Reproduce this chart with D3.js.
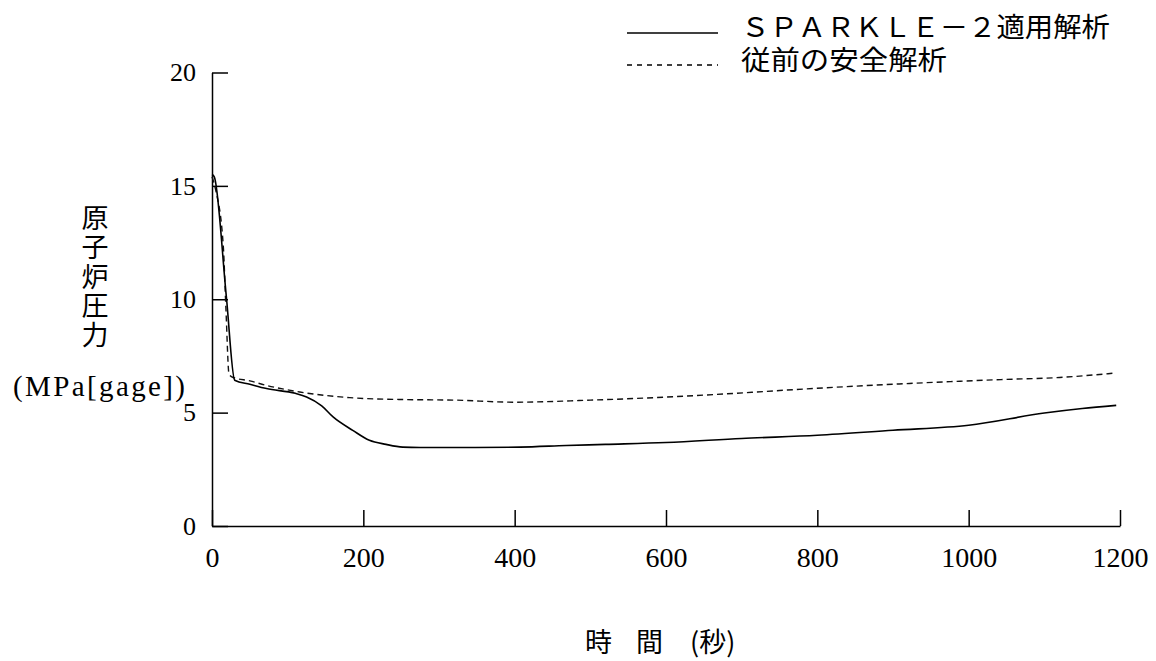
<!DOCTYPE html>
<html>
<head>
<meta charset="utf-8">
<script src="https://cdn.jsdelivr.net/npm/d3@7"></script>
<style>
  body { margin: 0; background: #fff; }
  svg { display: block; }
</style>
</head>
<body>
<svg></svg>
<script>
// SPARKLE-2 applied analysis (solid)
var timeSparkle = [0, 3, 19, 30, 50, 72, 110, 125, 145, 160, 186, 208, 230, 252, 275, 320, 407, 468, 520, 600, 700, 800, 900, 1000, 1100, 1150, 1195];
var pressSparkle = [15.5, 15.4, 10.1, 6.43, 6.25, 6.06, 5.85, 5.69, 5.3, 4.81, 4.22, 3.78, 3.6, 3.48, 3.46, 3.46, 3.48, 3.55, 3.6, 3.68, 3.86, 4.0, 4.22, 4.44, 4.98, 5.18, 5.32];

// conventional safety analysis (dashed)
var timeConv = [0, 5, 15, 18.5, 22.5, 28, 50, 72, 116, 182, 248, 323, 400, 500, 609, 715, 772, 899, 1045, 1120, 1195];
var pressConv = [15.4, 14.8, 12.3, 9.5, 6.7, 6.55, 6.4, 6.2, 5.91, 5.66, 5.58, 5.55, 5.46, 5.55, 5.7, 5.9, 6.02, 6.25, 6.46, 6.55, 6.75];

var xTicks = [0, 200, 400, 600, 800, 1000, 1200];
var yTicks = [0, 5, 10, 15, 20];

var legendLabels = ["ＳＰＡＲＫＬＥ－２適用解析", "従前の安全解析"];
var yTitle = "原子炉圧力";
var yUnit = "(MPa[gage])";

var screen = {width: 1156, height: 661};
var serif = "'Liberation Serif', 'DejaVu Serif', serif";
var cjk = "'Noto Sans CJK JP', sans-serif";
// latin font first keeps the line box compact, kanji fall back to Noto CJK
var legendFont = "'Liberation Sans', 'Noto Sans CJK JP', sans-serif";

var svg = d3.select("svg")
    .attr("width", screen.width)
    .attr("height", screen.height);

var xScale = d3.scaleLinear().domain([0, 1200]).range([212, 1120]);
var yScale = d3.scaleLinear().domain([0, 20]).range([526, 72.5]);

// axes
var xAxis = svg.append("g")
    .attr("transform", "translate(0," + yScale(0) + ")")
    .call(d3.axisBottom(xScale).tickValues(xTicks).tickFormat(d3.format("d"))
        .tickSizeInner(-16).tickSizeOuter(0).tickPadding(21));

var yAxis = svg.append("g")
    .attr("transform", "translate(" + xScale(0) + ",0)")
    .call(d3.axisLeft(yScale).tickValues(yTicks).tickFormat(d3.format("d"))
        .tickSizeInner(-16).tickSizeOuter(0).tickPadding(16));

xAxis.selectAll("path, line").attr("stroke", "#000").attr("stroke-width", 1.5);
yAxis.selectAll("path, line").attr("stroke", "#000").attr("stroke-width", 1.5);
xAxis.selectAll("text").attr("font-family", serif).attr("font-size", 28).attr("fill", "#000");
yAxis.selectAll("text").attr("font-family", serif).attr("font-size", 26).attr("fill", "#000");

// lines
var makeLine = function(times, values)
{
    return times.map(function(t, i){ return {t: t, v: values[i]}; });
}

var line = d3.line()
    .curve(d3.curveMonotoneX)
    .x(function(d){ return xScale(d.t); })
    .y(function(d){ return yScale(d.v); });

svg.append("path")
    .datum(makeLine(timeConv, pressConv))
    .attr("d", line)
    .attr("fill", "none")
    .attr("stroke", "#111")
    .attr("stroke-width", 1.4)
    .attr("stroke-dasharray", "6,4");

svg.append("path")
    .datum(makeLine(timeSparkle, pressSparkle))
    .attr("d", line)
    .attr("fill", "none")
    .attr("stroke", "#000")
    .attr("stroke-width", 1.6);

// legend
var legend = svg.append("g");
legendLabels.forEach(function(label, i)
{
    var y = 33 + i * 32;
    legend.append("line")
        .attr("x1", 627).attr("x2", 718)
        .attr("y1", y).attr("y2", y)
        .attr("stroke", "#000")
        .attr("stroke-width", i == 0 ? 1.6 : 1.3)
        .attr("stroke-dasharray", i == 0 ? null : "5,5");
    legend.append("text")
        .attr("x", 741)
        .attr("y", 37 + i * 33)
        .attr("font-family", legendFont)
        .attr("font-size", 27)
        .attr("textLength", i == 0 ? 369 : 206)
        .attr("lengthAdjust", "spacingAndGlyphs")
        .text(label);
});

// y title, written vertically
svg.append("text")
    .attr("x", 95)
    .attr("y", 204)
    .attr("writing-mode", "vertical-rl")
    .attr("font-family", cjk)
    .attr("font-size", 27)
    .attr("letter-spacing", 2.4)
    .text(yTitle);

svg.append("text")
    .attr("x", 13)
    .attr("y", 396)
    .attr("font-family", serif)
    .attr("font-size", 29)
    .attr("textLength", 172)
    .attr("lengthAdjust", "spacing")
    .text(yUnit);

// x title
var xTitle = svg.append("text")
    .attr("y", 643)
    .attr("dy", "0.35em")
    .attr("font-family", cjk)
    .attr("font-size", 27);
xTitle.append("tspan").attr("x", 585).text("時");
xTitle.append("tspan").attr("x", 636).text("間");
xTitle.append("tspan").attr("x", 690).text("(秒)");
</script>
</body>
</html>
